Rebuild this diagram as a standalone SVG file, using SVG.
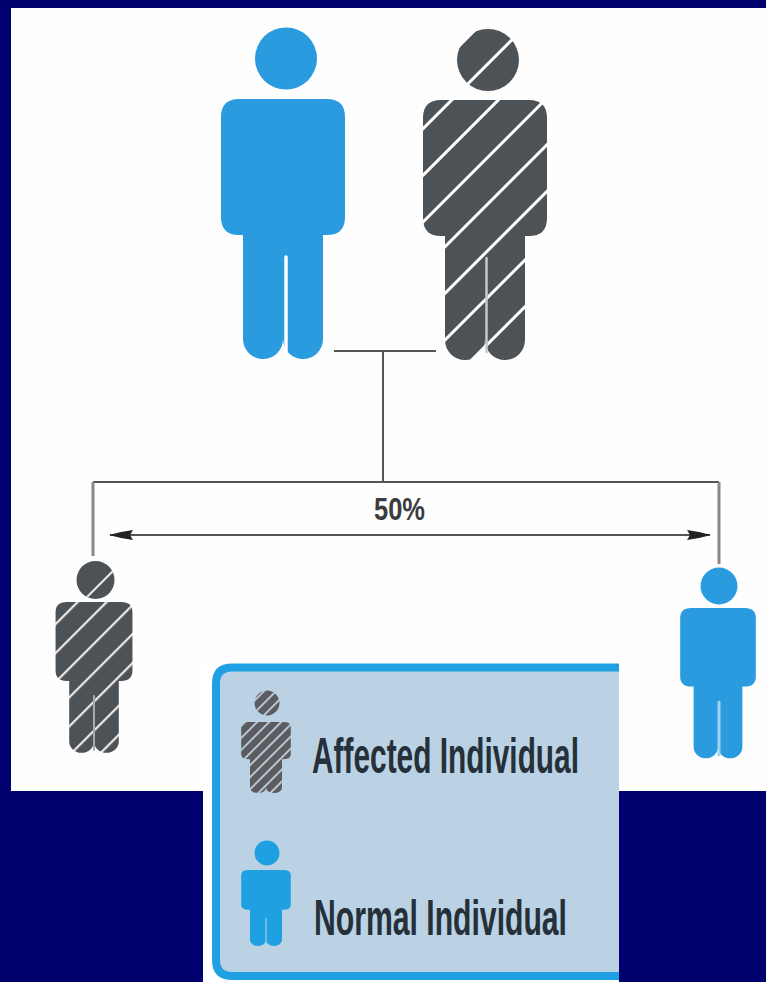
<svg xmlns="http://www.w3.org/2000/svg" width="766" height="982" viewBox="0 0 766 982">
<style>
.b{fill:#2b9be0}.lb{fill:#1ea0e2}
.c{fill:none;stroke:#555;stroke-width:2}.v{fill:none;stroke:#888;stroke-width:3}
.t{font-family:"Liberation Sans",Arial,sans-serif;fill:#25303a;font-weight:700}
.g{stroke-linecap:round;fill:none}
</style>
<defs>
<pattern id="h" patternUnits="userSpaceOnUse" width="33" height="33" patternTransform="rotate(-45) translate(0 25.6)">
<rect width="33" height="33" fill="#4d5257"/><rect width="33" height="3" fill="#fff"/>
</pattern>
<pattern id="h2" patternUnits="userSpaceOnUse" width="20.5" height="20.5" patternTransform="rotate(-45) translate(0 8)">
<rect width="20.5" height="20.5" fill="#4d5257"/><rect width="20.5" height="2.2" fill="#e8e8e8"/>
</pattern>
<pattern id="h3" patternUnits="userSpaceOnUse" width="8.5" height="8.5" patternTransform="rotate(-45) translate(0 3)">
<rect width="8.5" height="8.5" fill="#5a5c60"/><rect width="8.5" height="1.7" fill="#c4d4e0"/>
</pattern>
<marker id="a" markerWidth="24" markerHeight="12" refX="23" refY="6" orient="auto-start-reverse" markerUnits="userSpaceOnUse"><path d="M0 1L12 3L24 6L12 9L0 11L3 6Z" fill="#222"/></marker>
<path id="man" d="M-62 18q0-18 18-18h88q18 0 18 18v100q0 18-18 18h-4v104a20 20 0 0 1-40 0a20 20 0 0 1-40 0v-104h-4q-18 0-18-18Z"/>
<clipPath id="cp1"><circle cx="488" cy="60" r="31"/><use href="#man" transform="translate(485 100)"/></clipPath>
<clipPath id="cp2"><use href="#man" transform="translate(94 602) scale(.62 .58)"/></clipPath>
<clipPath id="cp3"><circle cx="267" cy="703" r="12.5"/><use href="#man" transform="translate(266 722) scale(.4 .273)"/></clipPath>
</defs>
<rect width="766" height="982" fill="#00006e"/>
<rect x="11" y="8" width="755" height="783" fill="#fefefe"/>
<g id="connectors">
<path class="c" d="M334 351H436M383 351V482M93 482H719"/>
<path class="v" d="M93 482V556M719 482V564"/>
<path class="c" d="M110 535H710" stroke="#333" marker-start="url(#a)" marker-end="url(#a)"/>
</g>
<g id="parent-normal"><circle class="b" cx="286" cy="58.5" r="31"/><use href="#man" class="b" transform="translate(283 99)"/><path class="g" d="M286 257V353" stroke="#fff" stroke-width="3.5"/></g>
<g id="parent-affected"><rect x="415" y="20" width="140" height="345" fill="url(#h)" clip-path="url(#cp1)"/><path class="g" d="M486.5 258V352" stroke="#c8c8c8" stroke-width="2.5"/></g>
<g id="child-affected"><circle cx="95.500" cy="580" r="19" fill="#4d5257"/><path d="M87 597L112.500 571.500" stroke="#e8e8e8" stroke-width="2.200"/><rect x="50" y="598" width="90" height="162" fill="url(#h2)" clip-path="url(#cp2)"/><path class="g" d="M94 696V750" stroke="#aaa" stroke-width="2"/></g>
<g id="child-normal"><circle class="b" cx="719" cy="586" r="18.5"/><use href="#man" class="b" transform="translate(718 608) scale(.61 .578)"/><path class="g" d="M719 702V755" stroke="#9fd2f2" stroke-width="3"/></g>
<text class="t" x="374" y="520" font-size="31" textLength="51" lengthAdjust="spacingAndGlyphs" style="fill:#3a3d40">50%</text>
<g id="legend">
<path d="M203 663H619V982H203Z" fill="#fff"/>
<path d="M619 667.500H232q-16 0-16 16V960q0 16 16 16H619Z" fill="#bad2e3"/>
<path d="M619 667.500H232q-16 0-16 16V960q0 16 16 16H619" fill="none" stroke="#1ea0e2" stroke-width="8"/>
<g id="legend-affected"><rect x="235" y="688" width="62" height="110" fill="url(#h3)" clip-path="url(#cp3)"/></g>
<text class="t" x="312" y="773" font-size="50" textLength="267" lengthAdjust="spacingAndGlyphs">Affected Individual</text>
<g id="legend-normal"><circle class="lb" cx="267" cy="853" r="12.500"/><use href="#man" class="lb" transform="translate(266 870) scale(.4 .292)"/><path d="M266 918V944" stroke="#8cc4e6" stroke-width="1.500"/></g>
<text class="t" x="314" y="935" font-size="50" textLength="253" lengthAdjust="spacingAndGlyphs">Normal Individual</text>
</g>
</svg>
